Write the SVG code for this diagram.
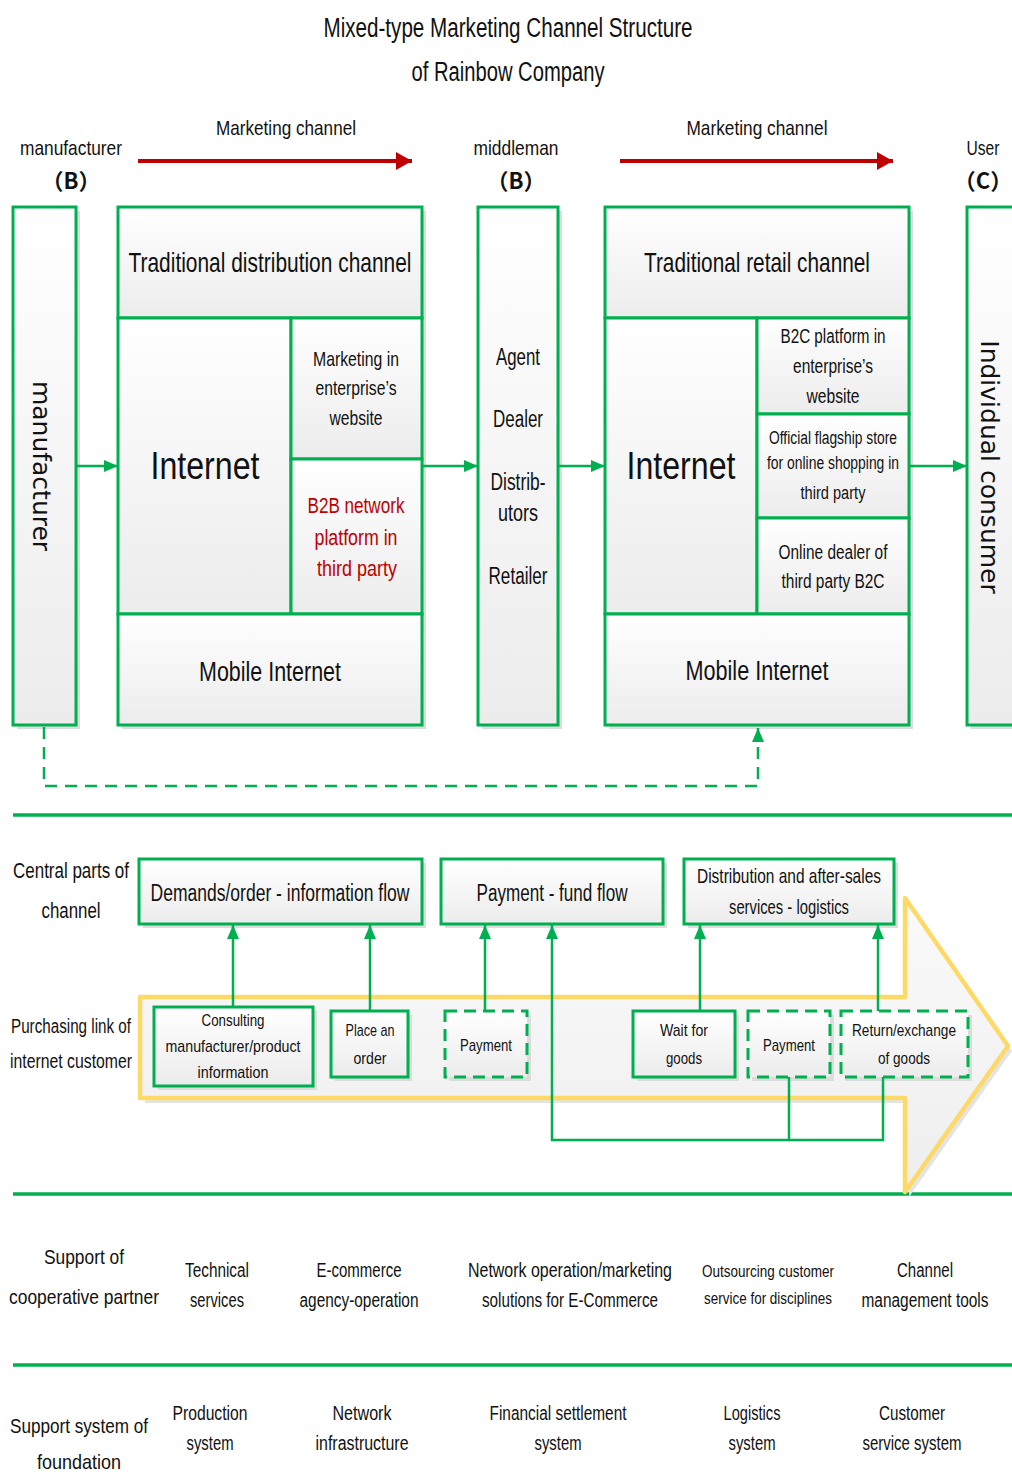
<svg xmlns="http://www.w3.org/2000/svg" width="1012" height="1472" viewBox="0 0 1012 1472">
<style>
.t{font-family:"Liberation Sans Narrow","Liberation Sans",Arial,sans-serif;fill:#111;text-anchor:middle}
.cjk{font-family:"Noto Sans CJK SC",sans-serif;fill:#111;text-anchor:middle;font-size:22px;font-weight:bold}
.v{font-family:"DejaVu Sans",Verdana,sans-serif;fill:#111;text-anchor:middle;font-size:25px}
.red{fill:#C00000}
.box{fill:url(#gr);stroke:#00B050;stroke-width:3}
.dbox{fill:url(#gr);stroke:#00B050;stroke-width:3;stroke-dasharray:12 7}
.sh{fill:#DCDCDC}
.ln{fill:none;stroke:#00B050;stroke-width:2.5}
.dl{fill:none;stroke:#00B050;stroke-width:2.5;stroke-dasharray:12 8}
.sep{stroke:#00B050;stroke-width:3.5}
.ra{fill:none;stroke:#C00000;stroke-width:4}
</style>
<defs>
<linearGradient id="gr" x1="0" y1="0" x2="0" y2="1"><stop offset="0" stop-color="#FFFFFF"/><stop offset="1" stop-color="#ECECEC"/></linearGradient>
<linearGradient id="ag" x1="0" y1="0" x2="0" y2="1"><stop offset="0" stop-color="#FAFAFA"/><stop offset="1" stop-color="#EEEEEE"/></linearGradient>
<marker id="ga" viewBox="0 0 14 12" refX="14" refY="6" markerWidth="14" markerHeight="12" markerUnits="userSpaceOnUse" orient="auto"><path d="M0,0 L14,6 L0,12 z" fill="#00B050"/></marker>
<marker id="ra" viewBox="0 0 16 18" refX="16" refY="9" markerWidth="16" markerHeight="18" markerUnits="userSpaceOnUse" orient="auto"><path d="M0,0 L16,9 L0,18 z" fill="#C00000"/></marker>
</defs>
<rect width="1012" height="1472" fill="#FFFFFF"/>

<g id="title">
<text class="t" x="508" y="37" font-size="27" textLength="369" lengthAdjust="spacingAndGlyphs">Mixed-type Marketing Channel Structure</text>
<text class="t" x="508" y="81" font-size="27" textLength="193" lengthAdjust="spacingAndGlyphs">of Rainbow Company</text>
</g>

<g id="headers">
<text class="t" x="71" y="155" font-size="21" textLength="102" lengthAdjust="spacingAndGlyphs">manufacturer</text>
<text class="cjk" x="71" y="189">（B）</text>
<text class="t" x="286" y="135" font-size="21" textLength="140" lengthAdjust="spacingAndGlyphs">Marketing channel</text>
<text class="t" x="516" y="155" font-size="21" textLength="85" lengthAdjust="spacingAndGlyphs">middleman</text>
<text class="cjk" x="516" y="189">（B）</text>
<text class="t" x="757" y="135" font-size="21" textLength="141" lengthAdjust="spacingAndGlyphs">Marketing channel</text>
<text class="t" x="983" y="155" font-size="21" textLength="33" lengthAdjust="spacingAndGlyphs">User</text>
<text class="cjk" x="983" y="189">（C）</text>
</g>

<g id="manufacturer">
<rect class="sh" x="17" y="211" width="63" height="518"/>
<rect class="box" x="13" y="207" width="63" height="518"/>
<text class="v" transform="translate(33,466) rotate(90)">manufacturer</text>
</g>

<g id="distribution-block">
<rect class="sh" x="122" y="211" width="304" height="518"/>
<g id="traditional-distribution-channel">
<rect class="box" x="118" y="207" width="304" height="111"/>
<text class="t" x="270" y="272" font-size="28" textLength="283" lengthAdjust="spacingAndGlyphs">Traditional distribution channel</text>
</g>
<g id="internet-left">
<rect class="box" x="118" y="318" width="173" height="296"/>
<text class="t" x="205" y="479" font-size="38" textLength="109" lengthAdjust="spacingAndGlyphs">Internet</text>
</g>
<g id="marketing-website">
<rect class="box" x="291" y="318" width="131" height="141"/>
<text class="t" x="356" y="366" font-size="21" textLength="86" lengthAdjust="spacingAndGlyphs">Marketing in</text>
<text class="t" x="356" y="395" font-size="21" textLength="81" lengthAdjust="spacingAndGlyphs">enterprise’s</text>
<text class="t" x="356" y="425" font-size="21" textLength="53" lengthAdjust="spacingAndGlyphs">website</text>
</g>
<g id="b2b-platform">
<rect class="box" x="291" y="459" width="131" height="155"/>
<text class="t red" x="356" y="513" font-size="22" textLength="97" lengthAdjust="spacingAndGlyphs">B2B network</text>
<text class="t red" x="356" y="545" font-size="22" textLength="83" lengthAdjust="spacingAndGlyphs">platform in</text>
<text class="t red" x="357" y="576" font-size="22" textLength="80" lengthAdjust="spacingAndGlyphs">third party</text>
</g>
<g id="mobile-internet-left">
<rect class="box" x="118" y="614" width="304" height="111"/>
<text class="t" x="270" y="681" font-size="27" textLength="142" lengthAdjust="spacingAndGlyphs">Mobile Internet</text>
</g>
</g>

<g id="middleman">
<rect class="sh" x="482" y="211" width="80" height="518"/>
<rect class="box" x="478" y="207" width="80" height="518"/>
<text class="t" x="518" y="365" font-size="23" textLength="44" lengthAdjust="spacingAndGlyphs">Agent</text>
<text class="t" x="518" y="427" font-size="23" textLength="50" lengthAdjust="spacingAndGlyphs">Dealer</text>
<text class="t" x="518" y="490" font-size="23" textLength="55" lengthAdjust="spacingAndGlyphs">Distrib-</text>
<text class="t" x="518" y="521" font-size="23" textLength="40" lengthAdjust="spacingAndGlyphs">utors</text>
<text class="t" x="518" y="584" font-size="23" textLength="59" lengthAdjust="spacingAndGlyphs">Retailer</text>
</g>

<g id="retail-block">
<rect class="sh" x="609" y="211" width="304" height="518"/>
<g id="traditional-retail-channel">
<rect class="box" x="605" y="207" width="304" height="111"/>
<text class="t" x="757" y="272" font-size="28" textLength="226" lengthAdjust="spacingAndGlyphs">Traditional retail channel</text>
</g>
<g id="internet-right">
<rect class="box" x="605" y="318" width="152" height="296"/>
<text class="t" x="681" y="479" font-size="38" textLength="109" lengthAdjust="spacingAndGlyphs">Internet</text>
</g>
<g id="b2c-platform">
<rect class="box" x="757" y="318" width="152" height="96"/>
<text class="t" x="833" y="343" font-size="20" textLength="105" lengthAdjust="spacingAndGlyphs">B2C platform in</text>
<text class="t" x="833" y="373" font-size="20" textLength="80" lengthAdjust="spacingAndGlyphs">enterprise’s</text>
<text class="t" x="833" y="403" font-size="20" textLength="53" lengthAdjust="spacingAndGlyphs">website</text>
</g>
<g id="flagship-store">
<rect class="box" x="757" y="414" width="152" height="104"/>
<text class="t" x="833" y="444" font-size="18" textLength="128" lengthAdjust="spacingAndGlyphs">Official flagship store</text>
<text class="t" x="833" y="469" font-size="18" textLength="132" lengthAdjust="spacingAndGlyphs">for online shopping in</text>
<text class="t" x="833" y="499" font-size="18" textLength="65" lengthAdjust="spacingAndGlyphs">third party</text>
</g>
<g id="online-dealer">
<rect class="box" x="757" y="518" width="152" height="96"/>
<text class="t" x="833" y="559" font-size="20" textLength="109" lengthAdjust="spacingAndGlyphs">Online dealer of</text>
<text class="t" x="833" y="588" font-size="20" textLength="103" lengthAdjust="spacingAndGlyphs">third party B2C</text>
</g>
<g id="mobile-internet-right">
<rect class="box" x="605" y="614" width="304" height="111"/>
<text class="t" x="757" y="680" font-size="27" textLength="143" lengthAdjust="spacingAndGlyphs">Mobile Internet</text>
</g>
</g>

<g id="individual-consumer">
<rect class="sh" x="971" y="211" width="60" height="518"/>
<rect class="box" x="967" y="207" width="60" height="518"/>
<text class="v" transform="translate(981,467) rotate(90)">Individual consumer</text>
</g>

<g id="separators">
<line class="sep" x1="13" y1="815" x2="1012" y2="815"/>
<line class="sep" x1="13" y1="1194" x2="1012" y2="1194"/>
<line class="sep" x1="13" y1="1365" x2="1012" y2="1365"/>
</g>

<g id="row-labels">
<text class="t" x="71" y="878" font-size="22" textLength="116" lengthAdjust="spacingAndGlyphs">Central parts of</text>
<text class="t" x="71" y="918" font-size="22" textLength="59" lengthAdjust="spacingAndGlyphs">channel</text>
<text class="t" x="71" y="1033" font-size="20" textLength="120" lengthAdjust="spacingAndGlyphs">Purchasing link of</text>
<text class="t" x="71" y="1068" font-size="20" textLength="122" lengthAdjust="spacingAndGlyphs">internet customer</text>
</g>

<g id="purchase-arrow">
<polygon points="145,1002 909,1002 909,903 1012,1051 909,1197 909,1103 145,1103" fill="#E4E4E4"/>
<polygon points="140,997 905,997 905,898 1008,1046 905,1192 905,1098 140,1098" fill="url(#ag)" stroke="#FFD966" stroke-width="4.5" stroke-linejoin="round"/>
</g>

<g id="demands-information-flow">
<rect class="sh" x="143" y="863" width="283" height="65"/>
<rect class="box" x="139" y="859" width="283" height="65"/>
<text class="t" x="280" y="901" font-size="23" textLength="259" lengthAdjust="spacingAndGlyphs">Demands/order - information flow</text>
</g>
<g id="payment-fund-flow">
<rect class="sh" x="445" y="863" width="222" height="65"/>
<rect class="box" x="441" y="859" width="222" height="65"/>
<text class="t" x="552" y="901" font-size="23" textLength="151" lengthAdjust="spacingAndGlyphs">Payment - fund flow</text>
</g>
<g id="distribution-logistics">
<rect class="sh" x="688" y="863" width="210" height="65"/>
<rect class="box" x="684" y="859" width="210" height="65"/>
<text class="t" x="789" y="883" font-size="21" textLength="184" lengthAdjust="spacingAndGlyphs">Distribution and after-sales</text>
<text class="t" x="789" y="914" font-size="21" textLength="120" lengthAdjust="spacingAndGlyphs">services - logistics</text>
</g>

<g id="consulting">
<rect class="sh" x="158" y="1011" width="159" height="79"/>
<rect class="box" x="154" y="1007" width="159" height="79"/>
<text class="t" x="233" y="1026" font-size="17" textLength="63" lengthAdjust="spacingAndGlyphs">Consulting</text>
<text class="t" x="233" y="1052" font-size="17" textLength="135" lengthAdjust="spacingAndGlyphs">manufacturer/product</text>
<text class="t" x="233" y="1078" font-size="17" textLength="71" lengthAdjust="spacingAndGlyphs">information</text>
</g>
<g id="place-order">
<rect class="sh" x="335" y="1015" width="77" height="66"/>
<rect class="box" x="331" y="1011" width="77" height="66"/>
<text class="t" x="370" y="1036" font-size="17" textLength="49" lengthAdjust="spacingAndGlyphs">Place an</text>
<text class="t" x="370" y="1064" font-size="17" textLength="33" lengthAdjust="spacingAndGlyphs">order</text>
</g>
<g id="payment-1">
<rect class="sh" x="449" y="1015" width="82" height="66"/>
<rect class="dbox" x="445" y="1011" width="82" height="66"/>
<text class="t" x="486" y="1051" font-size="17" textLength="52" lengthAdjust="spacingAndGlyphs">Payment</text>
</g>
<g id="wait-for-goods">
<rect class="sh" x="637" y="1015" width="102" height="66"/>
<rect class="box" x="633" y="1011" width="102" height="66"/>
<text class="t" x="684" y="1036" font-size="17" textLength="48" lengthAdjust="spacingAndGlyphs">Wait for</text>
<text class="t" x="684" y="1064" font-size="17" textLength="36" lengthAdjust="spacingAndGlyphs">goods</text>
</g>
<g id="payment-2">
<rect class="sh" x="752" y="1015" width="82" height="66"/>
<rect class="dbox" x="748" y="1011" width="82" height="66"/>
<text class="t" x="789" y="1051" font-size="17" textLength="52" lengthAdjust="spacingAndGlyphs">Payment</text>
</g>
<g id="return-exchange">
<rect class="sh" x="845" y="1015" width="127" height="66"/>
<rect class="dbox" x="841" y="1011" width="127" height="66"/>
<text class="t" x="904" y="1036" font-size="17" textLength="104" lengthAdjust="spacingAndGlyphs">Return/exchange</text>
<text class="t" x="904" y="1064" font-size="17" textLength="52" lengthAdjust="spacingAndGlyphs">of goods</text>
</g>

<g id="connectors">
<line class="ra" x1="138" y1="161" x2="412" y2="161" marker-end="url(#ra)"/>
<line class="ra" x1="620" y1="161" x2="893" y2="161" marker-end="url(#ra)"/>
<line class="ln" x1="76" y1="466" x2="118" y2="466" marker-end="url(#ga)"/>
<line class="ln" x1="422" y1="466" x2="478" y2="466" marker-end="url(#ga)"/>
<line class="ln" x1="558" y1="466" x2="605" y2="466" marker-end="url(#ga)"/>
<line class="ln" x1="909" y1="466" x2="967" y2="466" marker-end="url(#ga)"/>
<path class="dl" d="M44,727 V786 H758 V728" marker-end="url(#ga)"/>
<line class="ln" x1="233" y1="1007" x2="233" y2="925" marker-end="url(#ga)"/>
<line class="ln" x1="370" y1="1011" x2="370" y2="925" marker-end="url(#ga)"/>
<line class="ln" x1="485" y1="1011" x2="485" y2="925" marker-end="url(#ga)"/>
<path class="ln" d="M789,1077 V1140 H552 V925" marker-end="url(#ga)"/>
<path class="ln" d="M883,1077 V1140 H789"/>
<line class="ln" x1="700" y1="1011" x2="700" y2="925" marker-end="url(#ga)"/>
<line class="ln" x1="878" y1="1011" x2="878" y2="925" marker-end="url(#ga)"/>
</g>

<g id="cooperative-partner-support">
<text class="t" x="84" y="1264" font-size="21" textLength="80" lengthAdjust="spacingAndGlyphs">Support of</text>
<text class="t" x="84" y="1304" font-size="21" textLength="150" lengthAdjust="spacingAndGlyphs">cooperative partner</text>
<text class="t" x="217" y="1277" font-size="20" textLength="64" lengthAdjust="spacingAndGlyphs">Technical</text>
<text class="t" x="217" y="1307" font-size="20" textLength="54" lengthAdjust="spacingAndGlyphs">services</text>
<text class="t" x="359" y="1277" font-size="20" textLength="85" lengthAdjust="spacingAndGlyphs">E-commerce</text>
<text class="t" x="359" y="1307" font-size="20" textLength="119" lengthAdjust="spacingAndGlyphs">agency-operation</text>
<text class="t" x="570" y="1277" font-size="20" textLength="204" lengthAdjust="spacingAndGlyphs">Network operation/marketing</text>
<text class="t" x="570" y="1307" font-size="20" textLength="176" lengthAdjust="spacingAndGlyphs">solutions for E-Commerce</text>
<text class="t" x="768" y="1277" font-size="17" textLength="132" lengthAdjust="spacingAndGlyphs">Outsourcing customer</text>
<text class="t" x="768" y="1304" font-size="17" textLength="128" lengthAdjust="spacingAndGlyphs">service for disciplines</text>
<text class="t" x="925" y="1277" font-size="20" textLength="56" lengthAdjust="spacingAndGlyphs">Channel</text>
<text class="t" x="925" y="1307" font-size="20" textLength="127" lengthAdjust="spacingAndGlyphs">management tools</text>
</g>

<g id="foundation-support">
<text class="t" x="79" y="1433" font-size="21" textLength="138" lengthAdjust="spacingAndGlyphs">Support system of</text>
<text class="t" x="79" y="1469" font-size="21" textLength="84" lengthAdjust="spacingAndGlyphs">foundation</text>
<text class="t" x="210" y="1420" font-size="20" textLength="75" lengthAdjust="spacingAndGlyphs">Production</text>
<text class="t" x="210" y="1450" font-size="20" textLength="47" lengthAdjust="spacingAndGlyphs">system</text>
<text class="t" x="362" y="1420" font-size="20" textLength="59" lengthAdjust="spacingAndGlyphs">Network</text>
<text class="t" x="362" y="1450" font-size="20" textLength="93" lengthAdjust="spacingAndGlyphs">infrastructure</text>
<text class="t" x="558" y="1420" font-size="20" textLength="137" lengthAdjust="spacingAndGlyphs">Financial settlement</text>
<text class="t" x="558" y="1450" font-size="20" textLength="47" lengthAdjust="spacingAndGlyphs">system</text>
<text class="t" x="752" y="1420" font-size="20" textLength="57" lengthAdjust="spacingAndGlyphs">Logistics</text>
<text class="t" x="752" y="1450" font-size="20" textLength="47" lengthAdjust="spacingAndGlyphs">system</text>
<text class="t" x="912" y="1420" font-size="20" textLength="66" lengthAdjust="spacingAndGlyphs">Customer</text>
<text class="t" x="912" y="1450" font-size="20" textLength="99" lengthAdjust="spacingAndGlyphs">service system</text>
</g>
</svg>
